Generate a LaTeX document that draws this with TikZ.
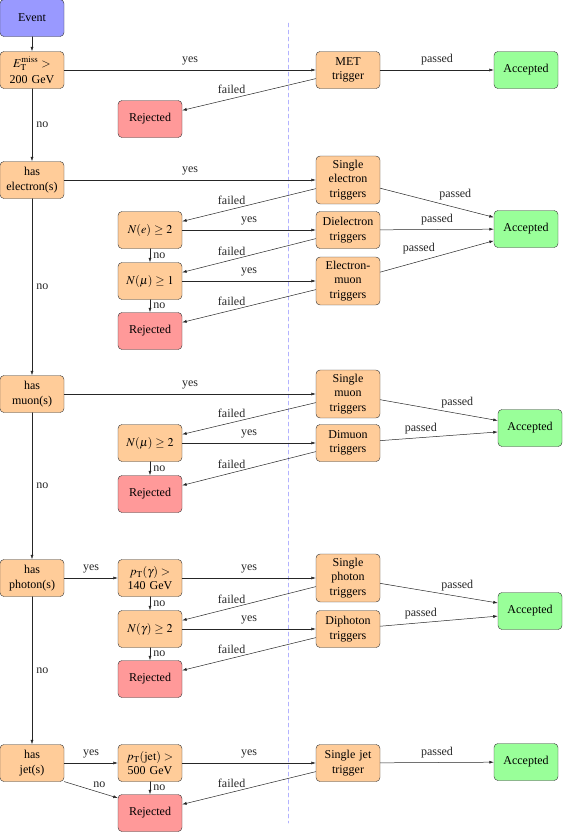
\documentclass[tikz,border=0pt]{standalone}
\usepackage{mathptmx}
\usepackage{fontspec}
\setmainfont{Liberation Serif}
\usetikzlibrary{arrows.meta,calc}

\tikzset{
	>={Latex[length=4.5pt,width=3pt]},
	box/.style={draw=black!80, rounded corners=4pt, align=center, minimum height=37pt, inner sep=4pt, text width=56pt, font=\fontsize{12}{14.5}\selectfont},
	start/.style={box, fill=blue!40},
	cut/.style={box, fill=orange!40},
	trig/.style={box, fill=orange!40},
	rej/.style={box, fill=red!40},
	acc/.style={box, fill=green!40},
	flow/.style={->, black!85, line width=0.5pt},
	lbl/.style={font=\fontsize{12}{14}\selectfont, inner sep=2pt},
	divider/.style={blue!30, dashed, dash pattern=on 4pt off 3pt, line width=0.5pt},
}

\begin{document}
\begin{tikzpicture}[x=1pt, y=-1pt, line cap=round, line join=round]
	
	\useasboundingbox (0,0) rectangle (563,833);
	
	% Divider between selections and triggers
	\draw[divider] (288,23) -- (288,823);
	
	% Start and MET selection
	\node[start] (event) at (32,18) {Event};
	\node[cut] (met) at (32,70) {$E_{\mathrm{T}}^{\mathrm{miss}} >$\\[1.5pt]200 GeV};
	\node[trig] (mettrig) at (348,70) {MET\\trigger};
	\node[acc] (acc1) at (526,70) {Accepted};
	\node[rej] (rej1) at (150,119) {Rejected};
	
	% Electron selection
	\node[cut] (ele) at (32,180) {has\\electron(s)};
	\node[trig] (eletrig) at (348,180) {Single\\electron\\triggers};
	\node[cut] (twoele) at (150,230) {$N(e)\geq 2$};
	\node[trig] (dieletrig) at (348,230) {Dielectron\\triggers};
	\node[acc] (acc2) at (526,229) {Accepted};
	\node[cut] (elemu) at (150,281) {$N(\mu)\geq 1$};
	\node[trig] (elemutrig) at (348,281) {Electron-\\muon\\triggers};
	\node[rej] (rej2) at (150,331) {Rejected};
	
	% Muon selection
	\node[cut] (mu) at (32,394) {has\\muon(s)};
	\node[trig] (mutrig) at (348,394) {Single\\muon\\triggers};
	\node[cut] (twomu) at (150,443) {$N(\mu)\geq 2$};
	\node[trig] (dimutrig) at (348,443) {Dimuon\\triggers};
	\node[acc] (acc3) at (530,428) {Accepted};
	\node[rej] (rej3) at (150,494) {Rejected};
	
	% Photon selection
	\node[cut] (pho) at (32,578) {has\\photon(s)};
	\node[cut] (phopt) at (150,578) {$p_{\mathrm{T}}(\gamma)>$\\140 GeV};
	\node[trig] (photrig) at (348,578) {Single\\photon\\triggers};
	\node[cut] (twopho) at (150,629) {$N(\gamma)\geq 2$};
	\node[trig] (diphotrig) at (348,629) {Diphoton\\triggers};
	\node[acc] (acc4) at (530,611) {Accepted};
	\node[rej] (rej4) at (150,679) {Rejected};
	
	% Jet selection
	\node[cut] (jet) at (32,763) {has\\jet(s)};
	\node[cut] (jetpt) at (150,763) {$p_{\mathrm{T}}(\mathrm{jet})>$\\500 GeV};
	\node[trig] (jettrig) at (348,763) {Single jet\\trigger};
	\node[acc] (acc5) at (526,762) {Accepted};
	\node[rej] (rej5) at (150,813) {Rejected};
	
	% Chain of "no" down the left column
	\draw[flow] (event) -- (met);
	\draw[flow] (met) -- node[lbl, right=2pt] {no} (ele);
	\draw[flow] (ele) -- node[lbl, right=2pt] {no} (mu);
	\draw[flow] (mu) -- node[lbl, right=2pt] {no} (pho);
	\draw[flow] (pho) -- node[lbl, right=2pt] {no} (jet);
	
	% MET
	\draw[flow] (met) -- node[lbl, above=2.5pt] {yes} (mettrig);
	\draw[flow] (mettrig.195) -- node[lbl, pos=0.63, above=2.5pt] {failed} (rej1.15);
	\draw[flow] (mettrig) -- node[lbl, above=2.5pt] {passed} (acc1);
	
	% Electrons
	\draw[flow] (ele) -- node[lbl, above=2.5pt] {yes} (eletrig);
	\draw[flow] (eletrig.195) -- node[lbl, pos=0.63, above=2.5pt] {failed} (twoele.15);
	\draw[flow] (twoele) -- node[lbl, above=2.5pt] {yes} (dieletrig);
	\draw[flow] (dieletrig.195) -- node[lbl, pos=0.63, above=2.5pt] {failed} (elemu.15);
	\draw[flow] (elemu) -- node[lbl, above=2.5pt] {yes} (elemutrig);
	\draw[flow] (elemutrig.195) -- node[lbl, pos=0.63, above=2.5pt] {failed} (rej2.15);
	\draw[flow] (twoele) -- node[lbl, right=1pt] {no} (elemu);
	\draw[flow] (elemu) -- node[lbl, right=1pt] {no} (rej2);
	\draw[flow] (eletrig) -- node[lbl, above right] {passed} (acc2.160);
	\draw[flow] (dieletrig) -- node[lbl, above=2.5pt] {passed} (acc2);
	\draw[flow] (elemutrig) -- node[lbl, above left] {passed} (acc2.200);
	
	% Muons
	\draw[flow] (mu) -- node[lbl, above=2.5pt] {yes} (mutrig);
	\draw[flow] (mutrig.195) -- node[lbl, pos=0.63, above=2.5pt] {failed} (twomu.15);
	\draw[flow] (twomu) -- node[lbl, above=2.5pt] {yes} (dimutrig);
	\draw[flow] (dimutrig.195) -- node[lbl, pos=0.63, above=2.5pt] {failed} (rej3.15);
	\draw[flow] (twomu) -- node[lbl, right=1pt] {no} (rej3);
	\draw[flow] (mutrig) -- node[lbl, above right] {passed} (acc3.167);
	\draw[flow] (dimutrig) -- node[lbl, above left] {passed} (acc3.187);
	
	% Photons
	\draw[flow] (pho) -- node[lbl, above=2.5pt] {yes} (phopt);
	\draw[flow] (phopt) -- node[lbl, above=2.5pt] {yes} (photrig);
	\draw[flow] (photrig.195) -- node[lbl, pos=0.63, above=2.5pt] {failed} (twopho.15);
	\draw[flow] (twopho) -- node[lbl, above=2.5pt] {yes} (diphotrig);
	\draw[flow] (diphotrig.195) -- node[lbl, pos=0.63, above=2.5pt] {failed} (rej4.15);
	\draw[flow] (phopt) -- node[lbl, right=1pt] {no} (twopho);
	\draw[flow] (twopho) -- node[lbl, right=1pt] {no} (rej4);
	\draw[flow] (photrig) -- node[lbl, above right] {passed} (acc4.166);
	\draw[flow] (diphotrig) -- node[lbl, above left] {passed} (acc4.189);
	
	% Jets
	\draw[flow] (jet) -- node[lbl, above=2.5pt] {yes} (jetpt);
	\draw[flow] (jet.-30) -- node[lbl, above right] {no} (rej5.155);
	\draw[flow] (jetpt) -- node[lbl, above=2.5pt] {yes} (jettrig);
	\draw[flow] (jettrig.195) -- node[lbl, pos=0.63, above=2.5pt] {failed} (rej5.15);
	\draw[flow] (jetpt) -- node[lbl, right=1pt] {no} (rej5);
	\draw[flow] (jettrig) -- node[lbl, above=2.5pt] {passed} (acc5);
	
\end{tikzpicture}
\end{document}
